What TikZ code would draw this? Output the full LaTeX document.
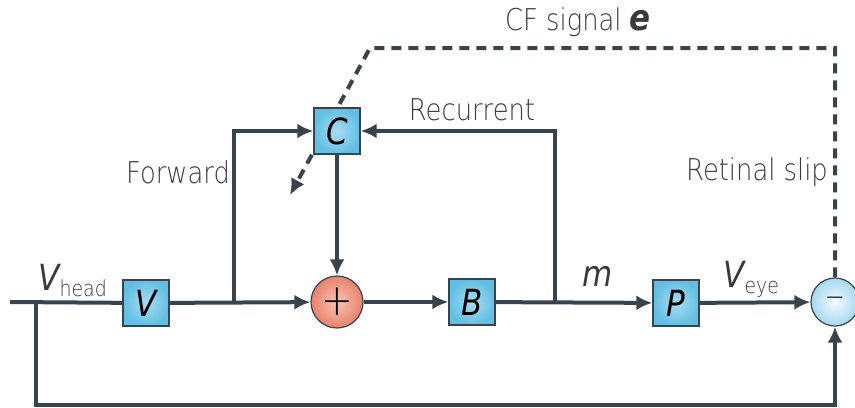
\documentclass[tikz,border=0pt]{standalone}
\usepackage{fontspec}
\setmainfont{DejaVu Sans}[FakeStretch=0.86]
\IfFontExistsTF{DejaVu Sans ExtraLight}
  {\newfontfamily\thinfont{DejaVu Sans ExtraLight}[FakeStretch=0.86]}
  {\newfontfamily\thinfont{DejaVu Sans}[FakeStretch=0.86]}
\usetikzlibrary{arrows.meta,positioning}
\definecolor{wireclr}{HTML}{37434D}
\definecolor{boxblue}{HTML}{62BFE3}
\definecolor{boxlight}{HTML}{A9DDF3}
\definecolor{sumred}{HTML}{E8826C}
\definecolor{sumlight}{HTML}{F9C4B4}
\definecolor{diffblue}{HTML}{A6D8EF}
\definecolor{difflight}{HTML}{F2FAFE}
\definecolor{textgray}{HTML}{3A3A3A}
\pgfdeclarelayer{background}
\pgfsetlayers{background,main}

\begin{document}
\begin{tikzpicture}[x=0.5pt,y=-0.5pt,
    block/.style={draw=wireclr,line width=0.7pt,inner color=boxlight,outer color=boxblue,
      minimum size=23pt,inner sep=0pt,text=black,font=\fontsize{18}{18}\selectfont\itshape},
    junction/.style={circle,draw=wireclr,line width=0.6pt,inner sep=0pt,text=black},
    wire/.style={line width=2pt,draw=wireclr},
    arrow/.style={wire,-{Latex[length=8pt,width=7.5pt]}},
    cfline/.style={wire,dash pattern=on 5pt off 3.5pt,-{Latex[length=8pt,width=7.5pt]}},
    lbl/.style={text=textgray,inner sep=0pt,font=\thinfont\fontsize{15}{15}\selectfont}
  ]
    \useasboundingbox (0,0) rectangle (855,407);
    % blocks
    \node[block] (vbox) at (146,303) {V};
    \node[block] (cbox) at (337,131) {C};
    \node[junction,inner color=sumlight,outer color=sumred,minimum size=26pt] (sum) at (337,302)
      {\thinfont\fontsize{22}{22}\selectfont +};
    \node[block] (bbox) at (472,302) {B};
    \node[block] (pbox) at (676,303) {P};
    \node[junction,inner color=difflight,outer color=diffblue,minimum size=24pt] (diff) at (835,302)
      {\thinfont\fontsize{14}{14}\selectfont −};
    % branch points
    \coordinate (in) at (10,302);
    \coordinate (tap) at (36,302);
    \coordinate (low) at (36,405);
    \coordinate (fwd) at (234,302);
    \coordinate (rec) at (555,302);
    \coordinate (cfcorner) at (370,48);
    \coordinate (cfend) at (290,195);
    % connectors
    \draw[wire] (in) -- (vbox);
    \draw[arrow] (vbox) -- (sum);
    \draw[arrow] (fwd) |- (cbox);
    \draw[arrow] (rec) |- (cbox);
    \draw[arrow] (cbox) -- (sum);
    \draw[arrow] (sum) -- (bbox);
    \draw[arrow] (bbox) -- (pbox);
    \draw[arrow] (pbox) -- (diff);
    \draw[arrow] (tap) -- (low) -| (diff);
    \begin{pgfonlayer}{background}
      \draw[cfline] (diff) |- (cfcorner) -- (cfend);
    \end{pgfonlayer}
    % labels
    \node[lbl] (cflabel) at (578,22) {CF signal {\normalfont\fontsize{18}{18}\selectfont\bfseries\itshape e}};
    \node[lbl] (reclabel) at (472,110) {Recurrent};
    \node[lbl] (fwdlabel) at (178,172) {Forward};
    \node[lbl] (sliplabel) at (757,172) {Retinal slip};
    \node[lbl,anchor=base west] (vhead) at (38,290)
      {{\normalfont\fontsize{18}{18}\selectfont\itshape V}\raisebox{-3pt}{\fontsize{11}{11}\selectfont head}};
    \node[lbl,anchor=base west] (veye) at (723,287)
      {{\normalfont\fontsize{18}{18}\selectfont\itshape V}\raisebox{-3pt}{\fontsize{11}{11}\selectfont eye}};
    \node[lbl,anchor=base] (mlabel) at (598,286) {\normalfont\fontsize{18}{18}\selectfont\itshape m};
  \end{tikzpicture}
\end{document}
